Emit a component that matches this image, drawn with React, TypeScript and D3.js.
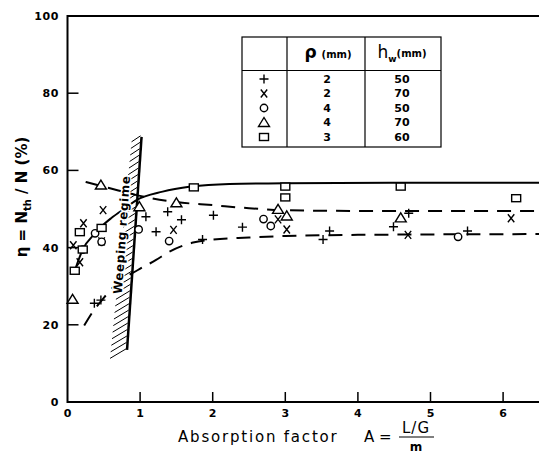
import * as d3 from "d3";

// axis ticks
const xTicks = [0, 1, 2, 3, 4, 5, 6];
const yTicks = [0, 20, 40, 60, 80, 100];

// measured points: [absorption factor A, efficiency %]
const plusPts: [number, number][] = [
  [0.37, 25.6], [0.46, 26.4], [1.08, 48], [1.22, 44.1], [1.38, 49.3],
  [1.57, 47.2], [1.86, 42.1], [2.01, 48.4], [2.41, 45.3], [3.52, 42.1],
  [3.61, 44.3], [4.49, 45.4], [4.7, 48.9], [5.51, 44.3],
];
const crossPts: [number, number][] = [
  [0.08, 40.6], [0.17, 36.2], [0.22, 46.3], [0.47, 41.6], [0.49, 49.7],
  [1.46, 44.6], [2.9, 47.3], [3.02, 44.7], [4.69, 43.3], [6.11, 47.6],
];
const circlePts: [number, number][] = [
  [0.21, 39.5], [0.38, 43.7], [0.47, 41.5], [0.98, 44.7], [1.4, 41.7],
  [2.7, 47.4], [2.8, 45.6], [5.38, 42.8],
];
const trianglePts: [number, number][] = [
  [0.07, 26.6], [0.46, 56.2], [0.99, 50.6], [1.5, 51.6], [2.9, 49.9],
  [3.02, 48.2], [4.59, 47.7],
];
const squarePts: [number, number][] = [
  [0.1, 34], [0.17, 44], [0.21, 39.5], [0.47, 45.1], [1.74, 55.6],
  [3.0, 55.8], [3.0, 53], [4.59, 55.8], [6.18, 52.8],
];

// fitted trend curves
const solidCurve: [number, number][] = [
  [0.1, 34], [0.21, 39.5], [0.38, 43.7], [0.47, 45.5], [0.6, 47.6],
  [0.8, 50.3], [0.95, 52.3], [1.31, 54.5], [1.7, 55.8], [2.23, 56.5],
  [3, 56.7], [4.5, 56.8], [6.5, 56.8],
];
const upperDashed: [number, number][] = [
  [0.25, 57], [0.46, 56], [0.7, 54.8], [0.95, 53.6], [1.5, 51.8],
  [2.0, 51], [2.5, 50.2], [3, 49.7], [4, 49.5], [6.5, 49.5],
];
const lowerDashed: [number, number][] = [
  [0.23, 19.8], [0.35, 23.4], [0.5, 27], [0.7, 31], [0.97, 34.2],
  [1.22, 36.8], [1.4, 38.9], [1.73, 41.3], [1.96, 42], [2.5, 42.6],
  [3, 43], [4, 43.3], [6.5, 43.5],
];
const weepingLine: [number, number][] = [[1.02, 68.7], [0.82, 13.5]];

const legendSymbols = ["plus", "cross", "circle", "triangle", "square"];
const legendP = ["2", "2", "4", "4", "3"];
const legendHw = ["50", "70", "50", "70", "60"];

const W = 539;
const H = 455;
const font = "'DejaVu Sans', sans-serif";

const x = d3.scaleLinear().domain([0, 6.5]).range([67.5, 539.4]);
const y = d3.scaleLinear().domain([0, 100]).range([402, 16]);

const Marker = ({ kind, cx, cy }: { kind: string; cx: number; cy: number }) => {
  const sw = 1.4;
  if (kind === "plus")
    return (
      <path
        d={`M${cx - 4.5},${cy}H${cx + 4.5}M${cx},${cy - 4.5}V${cy + 4.5}`}
        stroke="#000"
        strokeWidth={sw}
      />
    );
  if (kind === "cross")
    return (
      <path
        d={`M${cx - 3.2},${cy - 4}L${cx + 3.2},${cy + 4}M${cx + 3.2},${cy - 4}L${cx - 3.2},${cy + 4}`}
        stroke="#000"
        strokeWidth={sw}
      />
    );
  if (kind === "circle")
    return <circle cx={cx} cy={cy} r={3.7} fill="#fff" stroke="#000" strokeWidth={sw} />;
  if (kind === "triangle")
    return (
      <polygon
        points={`${cx},${cy - 5} ${cx + 5.5},${cy + 4} ${cx - 5.5},${cy + 4}`}
        fill="#fff"
        stroke="#000"
        strokeWidth={sw}
      />
    );
  return (
    <rect x={cx - 4.5} y={cy - 3.5} width={9} height={7} fill="#fff" stroke="#000" strokeWidth={sw} />
  );
};

export default function App() {
  const line = d3
    .line<[number, number]>()
    .x((d) => x(d[0]))
    .y((d) => y(d[1]))
    .curve(d3.curveMonotoneX);

  // hatch strokes along the left side of the weeping boundary, widening downwards
  const [top, bottom] = weepingLine;
  const hatch = d3.range(0, 1.0001, 1 / 33).map((t) => {
    const px = x(top[0]) + (x(bottom[0]) - x(top[0])) * t;
    const py = y(top[1]) + (y(bottom[1]) - y(top[1])) * t;
    return { px, py, len: 10 + 7 * t };
  });

  const series: { kind: string; pts: [number, number][] }[] = [
    { kind: "plus", pts: plusPts },
    { kind: "cross", pts: crossPts },
    { kind: "circle", pts: circlePts },
    { kind: "triangle", pts: trianglePts },
    { kind: "square", pts: squarePts },
  ];

  // legend table geometry
  const tb = { left: 242, right: 441, top: 37, bottom: 147, c1: 287, c2: 365, head: 70.5 };
  const rowY = d3.scaleLinear().domain([0, 4]).range([79, 137]);

  return (
    <>
      <style>{"body{margin:0}"}</style>
      <svg width={W} height={H} style={{ display: "block", background: "#fff" }}>
        {/* frame */}
        <path
          d={`M${W},${y(100)}H${x(0)}V${y(0)}H${W}`}
          fill="none"
          stroke="#000"
          strokeWidth={2}
        />
        {yTicks.slice(1, -1).map((t) => (
          <line key={t} x1={x(0)} x2={x(0) + 11} y1={y(t)} y2={y(t)} stroke="#000" strokeWidth={1.5} />
        ))}
        {xTicks.slice(1).map((t) => (
          <line key={t} x1={x(t)} x2={x(t)} y1={y(0)} y2={y(0) - 10} stroke="#000" strokeWidth={1.5} />
        ))}
        {yTicks.map((t) => (
          <text
            key={t}
            x={59}
            y={y(t)}
            dy="0.36em"
            textAnchor="end"
            fontFamily={font}
            fontWeight="bold"
            fontSize={11}
            letterSpacing={0.6}
          >
            {t}
          </text>
        ))}
        {xTicks.map((t) => (
          <text
            key={t}
            x={x(t)}
            y={417}
            textAnchor="middle"
            fontFamily={font}
            fontWeight="bold"
            fontSize={11}
          >
            {t}
          </text>
        ))}

        {/* trend curves */}
        <path d={line(solidCurve) || ""} fill="none" stroke="#000" strokeWidth={2} />
        <path d={line(upperDashed) || ""} fill="none" stroke="#000" strokeWidth={2} strokeDasharray="14 9" />
        <path d={line(lowerDashed) || ""} fill="none" stroke="#000" strokeWidth={2} strokeDasharray="14 9" />

        {/* weeping regime */}
        {hatch.map((h, i) => (
          <line
            key={i}
            x1={h.px - h.len}
            y1={h.py + h.len * 0.5}
            x2={h.px - 1}
            y2={h.py - 1}
            stroke="#000"
            strokeWidth={1}
          />
        ))}
        <line
          x1={x(top[0])}
          y1={y(top[1])}
          x2={x(bottom[0])}
          y2={y(bottom[1])}
          stroke="#000"
          strokeWidth={2.5}
        />
        <text
          transform="translate(126,235) rotate(-86)"
          textAnchor="middle"
          fontFamily={font}
          fontWeight="bold"
          fontSize={12}
          letterSpacing={0.6}
          stroke="#fff"
          strokeWidth={3}
          paintOrder="stroke"
        >
          Weeping regime
        </text>

        {/* data points */}
        {series.map((s) =>
          s.pts.map((d, i) => <Marker key={`${s.kind}-${i}`} kind={s.kind} cx={x(d[0])} cy={y(d[1])} />)
        )}

        {/* legend table */}
        <g stroke="#000" strokeWidth={1.2} fill="none">
          <rect x={tb.left} y={tb.top} width={tb.right - tb.left} height={tb.bottom - tb.top} />
          <line x1={tb.c1} x2={tb.c1} y1={tb.top} y2={tb.bottom} />
          <line x1={tb.c2} x2={tb.c2} y1={tb.top} y2={tb.bottom} />
          <line x1={tb.left} x2={tb.right} y1={tb.head} y2={tb.head} />
        </g>
        <text x={328} y={58} textAnchor="middle" fontFamily={font} fontWeight="bold">
          <tspan fontSize={17}>ρ</tspan>
          <tspan fontSize={10} dx={5}>(mm)</tspan>
        </text>
        <text x={402} y={58} textAnchor="middle" fontFamily={font} fontWeight="bold">
          <tspan fontSize={17} fontWeight="normal">h</tspan>
          <tspan fontSize={9} dy={4}>w</tspan>
          <tspan fontSize={10} dy={-5}>(mm)</tspan>
        </text>
        {legendSymbols.map((k, i) => (
          <g key={k}>
            <Marker kind={k} cx={264} cy={rowY(i)} />
            <text x={327} y={rowY(i)} dy="0.36em" textAnchor="middle" fontFamily={font} fontWeight="bold" fontSize={11}>
              {legendP[i]}
            </text>
            <text x={402} y={rowY(i)} dy="0.36em" textAnchor="middle" fontFamily={font} fontWeight="bold" fontSize={11}>
              {legendHw[i]}
            </text>
          </g>
        ))}

        {/* axis titles */}
        <text
          transform="translate(27,197) rotate(-90)"
          textAnchor="middle"
          fontFamily={font}
          fontWeight="bold"
          fontSize={15}
        >
          η = N<tspan fontSize={10} dy={4}>th</tspan>
          <tspan dy={-4}> / N (%)</tspan>
        </text>
        <text x={178} y={442} fontFamily={font} fontSize={15} letterSpacing={1.8}>
          Absorption factor
        </text>
        <text x={364} y={442} fontFamily={font} fontSize={15}>
          A =
        </text>
        <text x={416} y={433} textAnchor="middle" fontFamily={font} fontSize={15} letterSpacing={1}>
          L/G
        </text>
        <line x1={399} x2={434} y1={437} y2={437} stroke="#000" strokeWidth={1.2} />
        <text x={416} y={451} textAnchor="middle" fontFamily={font} fontWeight="bold" fontSize={12}>
          m
        </text>
      </svg>
    </>
  );
}
